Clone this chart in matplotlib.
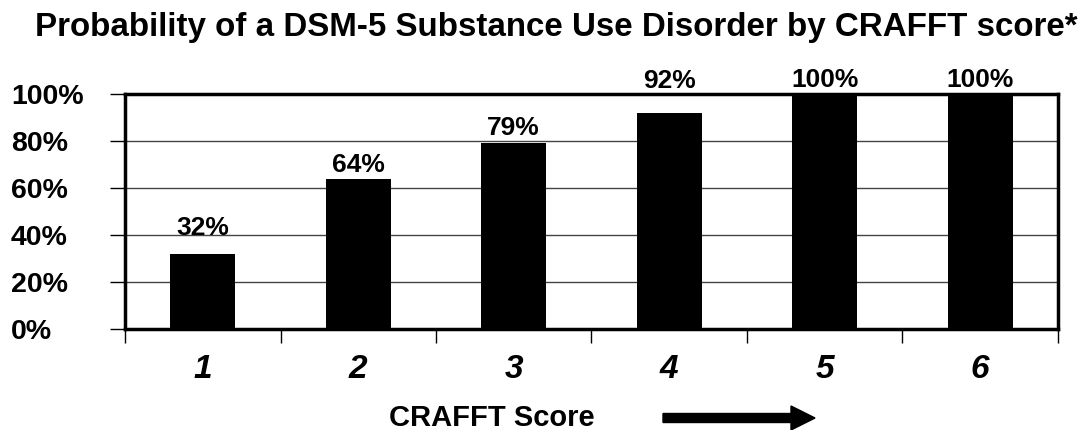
import matplotlib.pyplot as plt
from matplotlib.ticker import FixedLocator
from matplotlib.patches import FancyArrow
from matplotlib.transforms import IdentityTransform

plt.rcParams['font.family'] = ['Liberation Sans', 'DejaVu Sans']

scores = [1, 2, 3, 4, 5, 6]
probability = [32, 64, 79, 92, 100, 100]
y_ticks = [0, 20, 40, 60, 80, 100]

# label gap above each bar (points), as placed in the original
label_gap = [13.7, 5, 5.8, 18, 5, 5]

fig = plt.figure(figsize=(10.88, 4.3), dpi=100)
ax = fig.add_axes([0.1149, 0.2349, 0.8575, 0.5465])

ax.bar(scores, probability, width=0.42, color='black', zorder=3)
for x, v, g in zip(scores, probability, label_gap):
    ax.annotate(f"{v}%", (x, v), xytext=(0, g), textcoords='offset points',
                ha='center', va='baseline', fontsize=19, fontweight='bold',
                annotation_clip=False)

ax.set_xlim(0.5, 6.5)
ax.set_ylim(0, 100)
ax.set_yticks(y_ticks)
ax.set_yticklabels([f"{t}%" for t in y_ticks], fontsize=20.5, fontweight='bold')
ax.yaxis.grid(True, color='#444444', linewidth=1, zorder=0)
ax.tick_params(axis='y', length=11, width=1, pad=71)
for lab in ax.get_yticklabels():
    lab.set_horizontalalignment('left')
    lab.set_verticalalignment('center_baseline')

ax.set_xticks(scores)
ax.set_xticklabels([str(s) for s in scores], fontsize=24, fontweight='bold',
                   fontstyle='italic')
ax.tick_params(axis='x', which='major', length=0, pad=18)
ax.xaxis.set_minor_locator(FixedLocator([0.5 + i for i in range(7)]))
ax.tick_params(axis='x', which='minor', length=10, width=1)

for sp in ax.spines.values():
    sp.set_linewidth(2.5)

fig.text(0.511, 0.935, "Probability of a DSM-5 Substance Use Disorder by CRAFFT score*",
         ha='center', va='center', fontsize=23.9, fontweight='bold')
fig.text(0.452, 0.028, "CRAFFT Score", ha='center', va='center', fontsize=21,
         fontweight='bold')
arrow = FancyArrow(663, 12, 152, 0, width=9, head_width=24, head_length=24,
                   length_includes_head=True, color='black',
                   transform=IdentityTransform())
fig.add_artist(arrow)

fig.savefig("out.png", dpi=100)
